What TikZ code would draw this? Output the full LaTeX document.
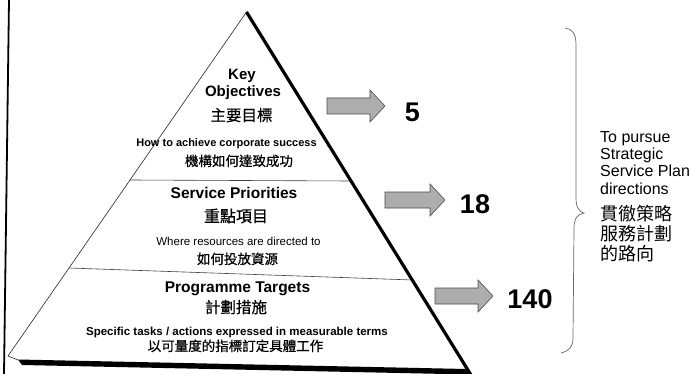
\documentclass[tikz,border=0pt]{standalone}
\usepackage{fontspec}
\setmainfont{Liberation Sans}
\newfontfamily\cjk{Noto Sans CJK TC}
\newfontfamily\cjkb[FakeBold=0.6]{Noto Sans CJK TC}
\newcommand\fsz[1]{\fontsize{#1}{#1}\selectfont}
\newcommand\blkarrow[3]{\filldraw[blkarr] (#1,#3-8) -- ({#2-15},#3-8) -- ({#2-15},#3-16) -- (#2,#3) -- ({#2-15},#3+16) -- ({#2-15},#3+8) -- (#1,#3+8) -- cycle;}
\begin{document}
\begin{tikzpicture}[x=1pt,y=-1pt,
  lbl/.style={inner sep=0pt, anchor=base},
  enb/.style={lbl, font=\bfseries\fsz{#1}},
  enr/.style={lbl, font=\fsz{#1}},
  zh/.style={lbl, font=\cjkb\fsz{#1}},
  num/.style={lbl, font=\bfseries\fsz{27}},
  side/.style={inner sep=0pt, anchor=base west, font=\fsz{16}},
  sidezh/.style={inner sep=0pt, anchor=base west, font=\cjk\fsz{18}},
  blkarr/.style={fill=black!32, draw=black!70, line width=0.6pt, line join=miter},
  thinedge/.style={draw=black!85, line width=0.6pt},
  divider/.style={draw=black!75, line width=0.6pt},
  brace/.style={draw=black!60, line width=0.7pt}
]
\useasboundingbox (0,0) rectangle (690,374);
\fill[white] (0,0) rectangle (690,374);

% coordinates of the pyramid
\coordinate (apex) at (246.5,12);
\coordinate (bl) at (8,356);
\coordinate (bls) at (18,360);
\coordinate (br) at (471,375);
\coordinate (d1l) at (130,180);
\coordinate (d1r) at (351,181);
\coordinate (d2l) at (69,268);
\coordinate (d2r) at (413,280);
\coordinate (ftop) at (9,0);
\coordinate (fbot) at (4,374);

% left frame line
\draw[line width=1.8pt] (ftop) -- (fbot);

% pyramid
\draw[thinedge] (apex) -- (bl) -- (bls);
\draw[divider] (d1l) -- (d1r);
\draw[divider] (d2l) -- (d2r);
\fill[black] (18,359.5) -- (467,369) -- (470,374.5) -- (22,365) -- cycle;
\draw[line width=3.2pt] (apex) -- (br);

% texts in the pyramid
\node[enb=15] (key) at (242,80) {Key};
\node[enb=15] (obj) at (243,97) {Objectives};
\node[zh=15.5] (objzh) at (241.5,121) {主要目標};
\node[enb=11] (how) at (226.5,147) {How to achieve corporate success};
\node[zh=13.5] (howzh) at (239,166) {機構如何達致成功};

\node[enb=15.5] (sp) at (234,198) {Service Priorities};
\node[zh=16] (spzh) at (236,222) {重點項目};
\node[enr=11.5] (where) at (238.5,245) {Where resources are directed to};
\node[zh=13.5] (wherezh) at (237.5,264) {如何投放資源};

\node[enb=15.5] (pt) at (237.5,292) {Programme Targets};
\node[zh=15.5] (ptzh) at (236,313) {計劃措施};
\node[enb=11.5] (spec) at (237,335) {Specific tasks / actions expressed in measurable terms};
\node[zh=13.5] (speczh) at (235.5,351) {以可量度的指標訂定具體工作};

% block arrows
\blkarrow{327}{385}{106}
\blkarrow{385}{445}{200}
\blkarrow{435}{493}{296}

% numbers
\node[num] (n5) at (412.5,122) {5};
\node[num] (n18) at (475,213) {18};
\node[num] (n140) at (530,308) {140};

% brace
\draw[brace] (565,28) .. controls (572,29) and (576,33) .. (576,45) -- (576,198)
  .. controls (576,207) and (579,212) .. (584,213)
  .. controls (578,214) and (574,218) .. (574,228) -- (573,338)
  .. controls (573,347) and (569,351) .. (561,353);

% side text
\node[side] (t1) at (600,143) {To pursue};
\node[side] (t2) at (600,160) {Strategic};
\node[side] (t3) at (600,177) {Service Plan};
\node[side] (t4) at (600,194) {directions};
\node[sidezh] (z1) at (600,220) {貫徹策略};
\node[sidezh] (z2) at (600,240) {服務計劃};
\node[sidezh] (z3) at (600,260) {的路向};
\end{tikzpicture}
\end{document}
